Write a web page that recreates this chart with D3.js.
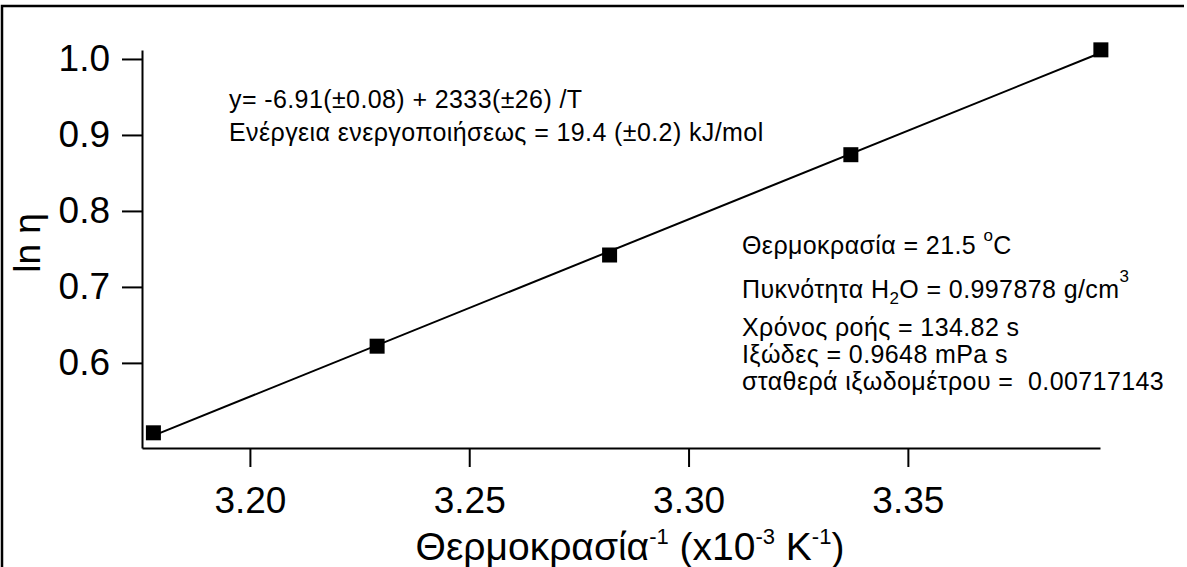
<!DOCTYPE html>
<html><head><meta charset="utf-8">
<script src="https://cdn.jsdelivr.net/npm/d3@7"></script>
<style>
body{margin:0;background:#fff}
text{font-family:"Liberation Sans",Arial,sans-serif;fill:#000}
</style>
</head><body>
<svg id="c" width="1187" height="567"></svg>
<script>
// data
const xValues = [3.178, 3.229, 3.282, 3.337, 3.394];   // 1/T (x10^-3 K^-1)
const yValues = [0.508, 0.622, 0.742, 0.874, 1.012];   // ln eta
const xTicks = [3.20, 3.25, 3.30, 3.35];
const yTicks = [0.6, 0.7, 0.8, 0.9, 1.0];
const fitIntercept = -6.91;   // from annotation
const fitSlope = 2.333;       // 2333 /T with x in 10^-3 K^-1
const fitRange = [3.178, 3.394];

const svg = d3.select("#c");
const x = d3.scaleLinear().domain([3.1754, 3.3938]).range([142, 1100]);
const y = d3.scaleLinear().domain([0.488, 1.0118]).range([448, 50]);

// outer frame (top and left edges)
svg.append("path").attr("d","M2,567V6H1184").attr("fill","none").attr("stroke","#000").attr("stroke-width",2.5);

// axes
const ya = svg.append("g").attr("transform","translate(142,0)")
  .call(d3.axisLeft(y).tickValues(yTicks).tickFormat(d3.format(".1f")).tickSize(20).tickSizeOuter(0).tickPadding(12));
const xa = svg.append("g").attr("transform","translate(0,448)")
  .call(d3.axisBottom(x).tickValues(xTicks).tickFormat(d3.format(".2f")).tickSize(19).tickSizeOuter(0).tickPadding(20));
[ya, xa].forEach(g => {
  g.selectAll("path,line").attr("stroke","#000").attr("stroke-width",2);
  g.selectAll("text").attr("font-size",37).attr("font-family","Liberation Sans, Arial, sans-serif").attr("fill","#000");
});

// fit line
const line = d3.line().x(d => x(d)).y(d => y(fitIntercept + fitSlope * d));
svg.append("path").datum(fitRange).attr("d", line).attr("fill","none").attr("stroke","#000").attr("stroke-width",2);

// markers
const ms = 15;
svg.selectAll("rect.pt").data(xValues).join("rect").attr("class","pt")
  .attr("x",(d,i)=>x(d)-ms/2).attr("y",(d,i)=>y(yValues[i])-ms/2)
  .attr("width",ms).attr("height",ms).attr("fill","#000");

// axis titles
const xl = svg.append("text").attr("x",630).attr("y",560).attr("text-anchor","middle").attr("font-size",39);
xl.append("tspan").text("Θερμοκρασία");
xl.append("tspan").attr("font-size",22).attr("dy",-16).text("-1");
xl.append("tspan").attr("dy",16).text(" (x10");
xl.append("tspan").attr("font-size",22).attr("dy",-16).text("-3");
xl.append("tspan").attr("dy",16).text(" K");
xl.append("tspan").attr("font-size",22).attr("dy",-16).text("-1");
xl.append("tspan").attr("dy",16).text(")");

svg.append("text").attr("transform","translate(40,243) rotate(-90)").attr("text-anchor","middle").attr("font-size",37).text("ln η");

// annotations
const fs = 25, ls = 0.4;
svg.append("text").attr("x",229).attr("y",108).attr("font-size",fs).attr("letter-spacing",ls).text("y= -6.91(±0.08) + 2333(±26) /T");
svg.append("text").attr("x",229).attr("y",141).attr("font-size",fs).attr("letter-spacing",ls).text("Ενέργεια ενεργοποιήσεως = 19.4 (±0.2) kJ/mol");

const t1 = svg.append("text").attr("x",742).attr("y",254).attr("font-size",fs).attr("letter-spacing",ls);
t1.append("tspan").text("Θερμοκρασία = 21.5 ");
t1.append("tspan").attr("font-size",17).attr("dy",-13).text("o");
t1.append("tspan").attr("dy",13).text("C");

const t2 = svg.append("text").attr("x",742).attr("y",298).attr("font-size",fs).attr("letter-spacing",ls);
t2.append("tspan").text("Πυκνότητα H");
t2.append("tspan").attr("font-size",17).attr("dy",6).text("2");
t2.append("tspan").attr("dy",-6).text("O = 0.997878 g/cm");
t2.append("tspan").attr("font-size",17).attr("dy",-16).text("3");

svg.append("text").attr("x",742).attr("y",336).attr("font-size",fs).attr("letter-spacing",ls).text("Χρόνος ροής = 134.82 s");
svg.append("text").attr("x",742).attr("y",363).attr("font-size",fs).attr("letter-spacing",ls).text("Ιξώδες = 0.9648 mPa s");
svg.append("text").attr("x",742).attr("y",390).attr("font-size",fs).attr("letter-spacing",ls).attr("xml:space","preserve").text("σταθερά ιξωδομέτρου =  0.00717143");
</script>
</body></html>
